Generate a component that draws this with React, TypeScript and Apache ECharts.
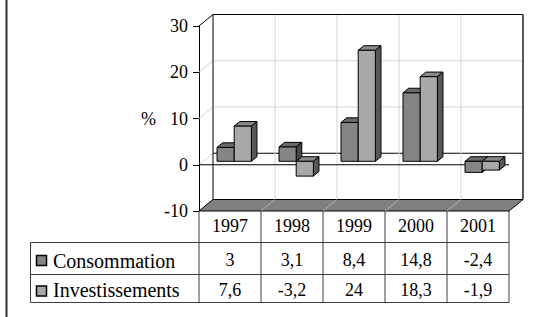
import React, { useEffect, useRef } from "react";
import * as echarts from "echarts";

const CATEGORIES = ["1997", "1998", "1999", "2000", "2001"];
const CONSOMMATION = [3, 3.1, 8.4, 14.8, -2.4];
const INVESTISSEMENTS = [7.6, -3.2, 24, 18.3, -1.9];
const SERIES_NAMES = ["Consommation", "Investissements"];
const Y_TICKS = [-10, 0, 10, 20, 30];

const FONT = "Times New Roman, Liberation Serif, DejaVu Serif, serif";
const DX = 14;
const DY = -11.5;
const BAR_SHIFT = 0.3;
const BAR_DEPTH = 0.4;
const BAR_FRAC = 0.277;

const COLORS = [
  { front: "#858585", top: "#6a6a6a", side: "#474747" },
  { front: "#a8a8a8", top: "#8a8a8a", side: "#575757" },
];

const fmt = (v: number) => String(v).replace(".", ",");

function barRenderer(s: number) {
  return (params: any, api: any) => {
    const i = api.value(0);
    const v = api.value(1);
    const catW = api.size([1, 0])[0];
    const p0 = api.coord([i, 0]);
    const pv = api.coord([i, v]);
    const bw = catW * BAR_FRAC;
    const ox = DX * BAR_SHIFT;
    const oy = DY * BAR_SHIFT;
    const x1 = p0[0] + ox + (s === 0 ? -bw : 0);
    const x2 = x1 + bw;
    const yT = Math.min(p0[1], pv[1]) + oy;
    const yB = Math.max(p0[1], pv[1]) + oy;
    const dx = DX * BAR_DEPTH;
    const dy = DY * BAR_DEPTH;
    const c = COLORS[s];
    const st = { stroke: "#000", lineWidth: 1, lineJoin: "round" };
    return {
      type: "group",
      children: [
        {
          type: "polygon",
          shape: { points: [[x1, yT], [x2, yT], [x2 + dx, yT + dy], [x1 + dx, yT + dy]] },
          style: { ...st, fill: c.top },
        },
        {
          type: "polygon",
          shape: { points: [[x2, yT], [x2 + dx, yT + dy], [x2 + dx, yB + dy], [x2, yB]] },
          style: { ...st, fill: c.side },
        },
        {
          type: "rect",
          shape: { x: x1, y: yT, width: bw, height: yB - yT },
          style: { ...st, fill: c.front },
        },
      ],
    };
  };
}

function frameRenderer(params: any, api: any) {
  const cs = params.coordSys;
  const x = cs.x;
  const w = cs.width;
  const yTop = api.coord([0, Y_TICKS[Y_TICKS.length - 1]])[1];
  const yBot = api.coord([0, Y_TICKS[0]])[1];
  const y0 = api.coord([0, 0])[1];
  const n = CATEGORIES.length;
  const children: any[] = [];
  children.push({
    type: "rect",
    shape: { x: x + DX, y: yTop + DY, width: w, height: yBot - yTop },
    style: { fill: "#ffffff" },
  });
  Y_TICKS.forEach((t) => {
    const yy = api.coord([0, t])[1];
    if (t !== Y_TICKS[0] && t !== Y_TICKS[Y_TICKS.length - 1]) {
      children.push({
        type: "line",
        shape: { x1: x + DX, y1: yy + DY, x2: x + DX + w, y2: yy + DY },
        style: { stroke: t === 0 ? "#000" : "#d4d4d4", lineWidth: 1 },
      });
      children.push({
        type: "line",
        shape: { x1: x, y1: yy, x2: x + DX, y2: yy + DY },
        style: { stroke: "#d4d4d4", lineWidth: 1 },
      });
    }
  });
  for (let k = 1; k < n; k++) {
    const xx = x + (w * k) / n + DX;
    children.push({
      type: "line",
      shape: { x1: xx, y1: yTop + DY, x2: xx, y2: yBot + DY },
      style: { stroke: "#d4d4d4", lineWidth: 1 },
    });
  }
  children.push({
    type: "polyline",
    shape: { points: [[x, yTop], [x + DX, yTop + DY], [x + DX + w, yTop + DY]] },
    style: { stroke: "#000", lineWidth: 1, fill: null },
  });
  children.push({
    type: "line",
    shape: { x1: x + DX, y1: yTop + DY, x2: x + DX, y2: yBot + DY },
    style: { stroke: "#000", lineWidth: 1 },
  });
  children.push({
    type: "line",
    shape: { x1: x + DX + w, y1: yTop + DY, x2: x + DX + w, y2: yBot + DY },
    style: { stroke: "#5a5a5a", lineWidth: 2 },
  });
  children.push({
    type: "polygon",
    shape: { points: [[x, yBot], [x + DX, yBot + DY], [x + DX + w, yBot + DY], [x + w, yBot]] },
    style: { fill: "#808080", stroke: "#000", lineWidth: 1 },
  });
  for (let k = 1; k < n; k++) {
    const xx = x + (w * k) / n;
    children.push({
      type: "line",
      shape: { x1: xx, y1: yBot, x2: xx + DX, y2: yBot + DY },
      style: { stroke: "#b4b4b4", lineWidth: 1 },
    });
  }
  children.push({
    type: "line",
    shape: { x1: x, y1: y0, x2: x + w, y2: y0 },
    style: { stroke: "#000", lineWidth: 1 },
  });
  return { type: "group", children };
}

const ROW_H = [31.5, 32, 28];
const TEXT_Y = [15, 17.5, 15];

function tableRenderer(params: any, api: any) {
  const cs = params.coordSys;
  const i = api.value(0);
  const catW = api.size([1, 0])[0];
  const xL = cs.x + i * catW;
  const cx = xL + catW / 2;
  const yTop = cs.y + cs.height;
  const rowsTop = [yTop, yTop + ROW_H[0], yTop + ROW_H[0] + ROW_H[1]];
  const yEnd = yTop + ROW_H[0] + ROW_H[1] + ROW_H[2];
  const texts = [CATEGORIES[i], fmt(CONSOMMATION[i]), fmt(INVESTISSEMENTS[i])];
  const children: any[] = [];
  const ls = { stroke: "#3c3c3c", lineWidth: 1 };
  children.push({ type: "line", shape: { x1: xL + catW, y1: yTop, x2: xL + catW, y2: yEnd }, style: ls });
  if (i === 0) {
    children.push({ type: "line", shape: { x1: xL, y1: yTop, x2: xL, y2: yEnd }, style: ls });
  }
  [rowsTop[1], rowsTop[2], yEnd].forEach((yy) => {
    children.push({ type: "line", shape: { x1: xL, y1: yy, x2: xL + catW, y2: yy }, style: ls });
  });
  texts.forEach((t, r) => {
    children.push({
      type: "text",
      x: cx,
      y: rowsTop[r] + TEXT_Y[r],
      style: {
        text: t,
        font: `18px ${FONT}`,
        fontFamily: FONT,
        fontSize: 18,
        fill: "#000",
        align: "center",
        verticalAlign: "middle",
      },
    });
  });
  return { type: "group", children };
}

const GRID = { left: 199, top: 26, width: 310, height: 185 };

function buildOption() {
  const tableTop = GRID.top + GRID.height;
  const r1 = tableTop + ROW_H[0];
  const r2 = r1 + ROW_H[1];
  const r3 = r2 + ROW_H[2];
  const headerLeft = 30.5;
  const ls = { stroke: "#3c3c3c", lineWidth: 1 };
  return {
    animation: false,
    backgroundColor: "#ffffff",
    textStyle: { fontFamily: FONT },
    grid: { ...GRID, containLabel: false },
    xAxis: {
      type: "category",
      data: CATEGORIES,
      show: false,
    },
    yAxis: {
      type: "value",
      min: -10,
      max: 30,
      interval: 10,
      name: "%",
      nameLocation: "middle",
      nameRotate: 0,
      nameGap: 43,
      nameTextStyle: { fontFamily: FONT, fontSize: 18, color: "#000" },
      axisLine: { show: true, lineStyle: { color: "#000", width: 1 } },
      axisTick: { show: true, length: 6, lineStyle: { color: "#000" } },
      axisLabel: { margin: 11, fontFamily: FONT, fontSize: 18, color: "#000" },
      splitLine: { show: false },
    },
    series: [
      {
        type: "custom",
        name: "frame",
        z: 1,
        silent: true,
        renderItem: frameRenderer,
        data: [[0, 0]],
        encode: { x: 0, y: 1 },
      },
      {
        type: "custom",
        name: SERIES_NAMES[0],
        z: 2,
        renderItem: barRenderer(0),
        data: CONSOMMATION.map((v, i) => [i, v]),
        encode: { x: 0, y: 1 },
      },
      {
        type: "custom",
        name: SERIES_NAMES[1],
        z: 3,
        renderItem: barRenderer(1),
        data: INVESTISSEMENTS.map((v, i) => [i, v]),
        encode: { x: 0, y: 1 },
      },
      {
        type: "custom",
        name: "table",
        z: 4,
        silent: true,
        renderItem: tableRenderer,
        data: CATEGORIES.map((_, i) => [i, -10]),
        encode: { x: 0, y: 1 },
      },
    ],
    graphic: [
      { type: "line", shape: { x1: 6.5, y1: 0, x2: 6.5, y2: 317 }, style: { stroke: "#333", lineWidth: 2 } },
      { type: "line", shape: { x1: headerLeft, y1: r1, x2: GRID.left, y2: r1 }, style: ls },
      { type: "line", shape: { x1: headerLeft, y1: r2, x2: GRID.left, y2: r2 }, style: ls },
      { type: "line", shape: { x1: headerLeft, y1: r3, x2: GRID.left, y2: r3 }, style: ls },
      { type: "line", shape: { x1: headerLeft, y1: r1, x2: headerLeft, y2: r3 }, style: ls },
      {
        type: "rect",
        shape: { x: 36.5, y: r1 + 13, width: 10, height: 10 },
        style: { fill: COLORS[0].front, stroke: "#000", lineWidth: 1.5 },
      },
      {
        type: "rect",
        shape: { x: 36.5, y: r2 + 11.5, width: 10, height: 10 },
        style: { fill: COLORS[1].front, stroke: "#000", lineWidth: 1.5 },
      },
      {
        type: "text",
        x: 53,
        y: r1 + 18,
        style: { text: SERIES_NAMES[0], font: `20px ${FONT}`, fontFamily: FONT, fontSize: 20, fill: "#000", verticalAlign: "middle" },
      },
      {
        type: "text",
        x: 53,
        y: r2 + 15.5,
        style: { text: SERIES_NAMES[1], font: `20px ${FONT}`, fontFamily: FONT, fontSize: 20, fill: "#000", verticalAlign: "middle" },
      },
    ],
  };
}

export default function App() {
  const ref = useRef<HTMLDivElement>(null);
  useEffect(() => {
    const chart = echarts.init(ref.current!, null, { renderer: "svg" });
    chart.setOption(buildOption() as any);
    return () => chart.dispose();
  }, []);
  return (
    <div
      ref={ref}
      style={{ position: "absolute", left: 0, top: 0, width: 539, height: 317, background: "#fff" }}
    />
  );
}
